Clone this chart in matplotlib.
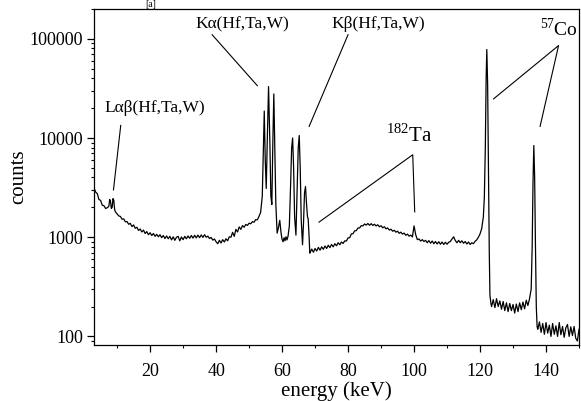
import numpy as np
import matplotlib
matplotlib.use('Agg')
import matplotlib.pyplot as plt
from matplotlib.ticker import MultipleLocator, LogLocator, FuncFormatter, NullFormatter

plt.rcParams['font.family'] = ['Liberation Serif', 'DejaVu Serif']
plt.rcParams['mathtext.fontset'] = 'custom'
plt.rcParams['mathtext.rm'] = 'Liberation Serif'

# low energy part, L x-rays (keV, counts)
e_low = [3.0, 3.5, 4.0, 4.5, 5.0, 5.5, 6.0, 6.5, 7.0, 7.5, 7.75, 8.0, 8.25, 8.5,
         8.75, 9.0, 9.25, 9.5, 10.0, 10.5]
c_low = [3150, 2850, 2750, 2400, 2350, 2100, 2080, 1950, 1980, 2050, 2400, 2300,
         1950, 2000, 2450, 2350, 1900, 1800, 1720, 1640]

# continuum 11 - 54 keV, 0.5 keV channels
e_cont1 = np.arange(11.0, 54.01, 0.5)
c_cont1 = [1620, 1520, 1530, 1430, 1440, 1350, 1380, 1280, 1330, 1230,   # 11 - 15.5
           1260, 1170, 1210, 1130, 1180, 1090, 1140, 1060, 1110, 1040,   # 16 - 20.5
           1090, 1020, 1070, 1010, 1060, 990, 1040, 970, 1030, 965,      # 21 - 25.5
           1020, 940, 1010, 930, 1000, 1020, 920, 1005, 945, 1020,       # 26 - 30.5
           965, 1030, 975, 1040, 980, 1045, 985, 1050, 990, 1055,        # 31 - 35.5
           995, 1060, 1000, 1025, 970, 995, 935, 960, 900, 860,          # 36 - 40.5
           930, 875, 945, 895, 965, 920, 1010, 1000, 1120, 1020,         # 41 - 45.5
           1200, 1130, 1270, 1200, 1310, 1260, 1345, 1315, 1385, 1365,   # 46 - 50.5
           1435, 1415, 1505, 1495, 1620, 1780, 2600]                     # 51 - 54

# K alpha / K beta region
e_k = [54.3, 54.6, 54.9, 55.2, 55.5, 55.9, 56.3, 56.6, 56.9, 57.2, 57.5, 57.8, 58.1,
       58.5, 58.9, 59.3, 59.7, 60.0, 60.3, 60.6, 60.9, 61.2, 61.5, 61.8, 62.2, 62.6,
       62.9, 63.2, 63.5, 63.8, 64.2, 64.5, 64.9, 65.2, 65.5, 65.8, 66.2, 66.5, 66.8,
       67.1, 67.4, 67.7, 67.9, 68.2, 68.4]
c_k = [7000, 18700, 6000, 3100, 9000, 33000, 9000, 2600, 2140, 9000, 27800, 8000, 2200,
       1100, 1250, 1480, 1100, 950, 900, 990, 920, 1010, 940, 1020, 1300, 3500,
       8000, 10000, 5000, 1600, 1050, 2500, 8000, 10600, 5000, 1500, 840, 1400, 2800,
       3240, 2200, 1600, 1550, 1000, 690]

# continuum 68.5 - 121 keV
e_cont2 = np.arange(68.5, 121.01, 0.5)
c_cont2 = [700, 760, 705, 770, 725, 790, 740, 800, 755, 815,            # 68.5 - 73
           770, 830, 785, 845, 800, 860, 820, 880, 840, 895,            # 73.5 - 78
           865, 920, 915, 985, 990, 1080, 1085, 1160, 1165, 1240,       # 78.5 - 83
           1240, 1310, 1300, 1360, 1325, 1375, 1320, 1370, 1315, 1350,  # 83.5 - 88
           1300, 1335, 1275, 1305, 1245, 1275, 1215, 1240, 1180, 1205,  # 88.5 - 93
           1150, 1175, 1125, 1150, 1095, 1125, 1075, 1100, 1045, 1075,  # 93.5 - 98
           1025, 1050, 1005, 1300, 1060, 945, 960, 915, 945, 905,       # 98.5 - 103
           930, 880, 925, 870, 915, 860, 905, 855, 900, 850,            # 103.5 - 108
           895, 845, 890, 850, 890, 905, 960, 1010, 925, 880,           # 108.5 - 113
           930, 880, 920, 870, 905, 855, 895, 845, 880, 860,            # 113.5 - 118
           910, 940, 1000, 1080, 1220, 1600]                            # 118.5 - 121

# 57Co 122 keV line
e_co1 = [121.3, 121.6, 121.85, 122.05, 122.3, 122.55, 122.8, 123.0, 123.3]
c_co1 = [2500, 8000, 40000, 78000, 35000, 5000, 700, 260, 215]

e_cont3 = np.arange(123.5, 135.51, 0.5)
c_cont3 = [200, 235, 195, 240, 200, 228, 188, 225, 182, 218,   # 123.5 - 128
           178, 215, 182, 210, 172, 212, 178, 218, 186, 222,   # 128.5 - 133
           190, 232, 205, 240, 300]                            # 133.5 - 135.5

# 57Co 136 keV line
e_co2 = [135.8, 136.05, 136.3, 136.55, 136.8, 137.05, 137.3]
c_co2 = [800, 3500, 8400, 4000, 800, 200, 125]

e_cont4 = np.arange(137.5, 150.01, 0.5)
c_cont4 = [118, 140, 110, 135, 105, 138, 108, 130, 100, 135,   # 137.5 - 142
           105, 128, 100, 138, 104, 126, 98, 122, 132, 100,    # 142.5 - 147
           125, 102, 126, 96, 90, 118]                         # 147.5 - 150

energy = np.concatenate([e_low, e_cont1, e_k, e_cont2, e_co1, e_cont3, e_co2, e_cont4])
counts = np.concatenate([c_low, c_cont1, c_k, c_cont2, c_co1, c_cont3, c_co2, c_cont4])

fig = plt.figure(figsize=(5.81, 4.01), dpi=100)
ax = fig.add_axes([0.1618, 0.1397, 0.8348, 0.838])
ax.plot(energy, counts, color='black', lw=0.9)

ax.set_yscale('log')
ax.set_xlim(3, 150)
ax.set_ylim(82, 2.0e5)

ax.xaxis.set_major_locator(MultipleLocator(20))
ax.xaxis.set_minor_locator(MultipleLocator(10))
ax.yaxis.set_major_locator(LogLocator(base=10))
ax.yaxis.set_minor_locator(LogLocator(base=10, subs=np.arange(2, 10)))
ax.yaxis.set_major_formatter(FuncFormatter(lambda v, p: '%d' % v))
ax.yaxis.set_minor_formatter(NullFormatter())
ax.tick_params(which='major', direction='out', length=5, width=0.9, labelsize=13, pad=3)
ax.tick_params(axis='x', which='major', pad=8)
ax.tick_params(which='minor', direction='out', length=2.5, width=0.8)
for s in ax.spines.values():
    s.set_linewidth(0.9)

ax.set_xlabel('energy (keV)', fontsize=15, labelpad=1)
ax.set_ylabel('counts', fontsize=15, labelpad=1)

# labels and pointer lines
kw = dict(color='black', lw=0.8)
ax.plot([11.1, 8.9], [13400, 3000], **kw)
ax.plot([38.8, 52.5], [110000, 33700], **kw)
ax.plot([80.0, 68.2], [110000, 13100], **kw)
ax.plot([71.2, 99.6, 100.2], [1420, 6780, 1800], **kw)
ax.plot([124.1, 143.8, 138.2], [24800, 85500, 13100], **kw)

ax.text(6.1, 20200, 'Lαβ(Hf,Ta,W)', fontsize=12.5, va='center', ha='left')
ax.text(33.6, 140000, 'Kα(Hf,Ta,W)', fontsize=12.5, va='center', ha='left')
ax.text(75.0, 140000, 'Kβ(Hf,Ta,W)', fontsize=12.5, va='center', ha='left')
ax.text(91.4, 10700, r'$^{182}$Ta', fontsize=15, va='center', ha='left')
ax.text(149.6, 126000, r'$^{57}$Co', fontsize=14, va='center', ha='right')

fig.text(0.25, 1.0, '[a]', fontsize=7, va='top', ha='left')

fig.savefig('out.png', dpi=100)
